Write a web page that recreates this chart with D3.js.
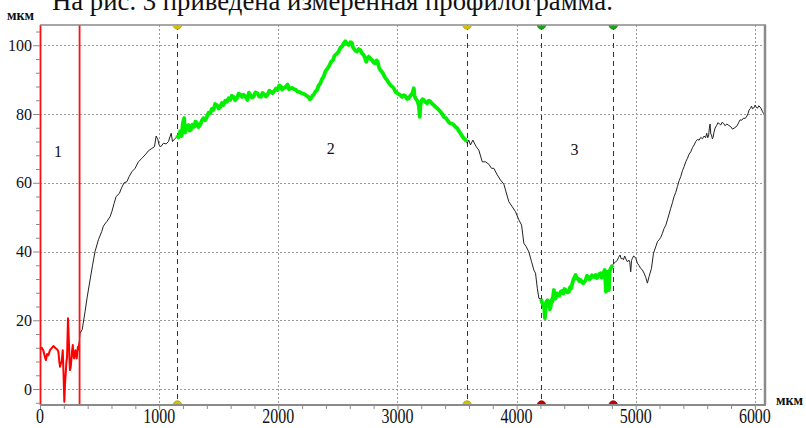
<!DOCTYPE html>
<html>
<head>
<meta charset="utf-8">
<script src="https://cdn.jsdelivr.net/npm/d3@7/dist/d3.min.js"></script>
<style>
  html, body { margin: 0; padding: 0; background: #fff; }
  svg { display: block; }
</style>
</head>
<body>
<svg id="chart" width="806" height="428"></svg>
<script>
// Profile height (мкм) against position along the trace (мкм), one array per zone.
const profileRed = [[0,11.5],[15,12],[28,11.2],[40,9.5],[50,8.4],[60,10.2],[70,9.8],[84,11.3],[100,12],[112,12.5],[125,12.1],[134,11.8],[145,11.5],[154,10.9],[162,8],[168,6.5],[175,7.5],[182,7.9],[191,11.3],[198,4],[204,-3.7],[210,1.5],[216,4.6],[222,8],[227,9.4],[231,15],[235,20.6],[240,16],[244,12.3],[248,8],[252,5.5],[258,6.5],[263,8.4],[269,11],[275,12.8],[280,10],[286,8.9],[292,10],[297,11.3],[303,10],[308,8.9],[314,11],[319,12.3],[324,11.5],[328,13.3]];

const profileBlackA = [[328,13.3],[336,16.2],[355,17.4],[378,22.5],[395,26.5],[420,31.7],[441,36],[462,40],[490,43.4],[518,45.8],[532,47.4],[560,48.7],[588,50.1],[603,51.6],[622,54],[639,56],[666,56.9],[687,58.7],[706,60],[729,60.3],[748,61.8],[771,63.2],[798,64.2],[826,66.1],[855,67.1],[882,68.1],[910,69.3],[939,70],[961,70.5],[975,73.6],[989,72.6],[1000,71],[1014,70.5],[1036,71.5],[1059,71.3],[1078,72],[1101,74.4],[1112,72],[1134,72.9],[1149,73.4]];

const profileGreenA = [[1149,73.9],[1162,73.2],[1176,74.9],[1188,73.6],[1199,77.3],[1210,78.8],[1218,74.6],[1227,75.9],[1246,76.8],[1256,75.2],[1266,75.4],[1280,76.9],[1294,76.3],[1305,77.8],[1317,77.3],[1330,76.2],[1344,76.8],[1358,78.1],[1372,78.8],[1386,78.2],[1401,79.2],[1415,80.4],[1429,80.2],[1442,81.5],[1456,81.2],[1470,82.9],[1485,82.6],[1499,81.6],[1513,82.1],[1527,83.2],[1540,82.6],[1555,83.9],[1569,83.6],[1583,84.6],[1597,84.1],[1610,85.3],[1624,85],[1638,84],[1653,84.6],[1667,85.9],[1681,85.7],[1695,85],[1708,85.6],[1725,85.1],[1742,84.1],[1753,86.2],[1765,85.6],[1778,84.8],[1792,85],[1808,86.3],[1826,86],[1840,85.1],[1855,85],[1868,86.1],[1882,85.7],[1896,85.1],[1910,85.6],[1925,86.8],[1939,86.4],[1952,86.1],[1966,86.7],[1980,87.4],[1994,87],[2008,88.3],[2023,88],[2032,87.1],[2044,87.5],[2060,87.8],[2078,88.6],[2090,87.2],[2101,87.5],[2115,87.6],[2128,87.3],[2145,87.1],[2162,86.5],[2180,86.4],[2199,86],[2213,85.9],[2227,85.6],[2241,85.2],[2255,84.9],[2265,84.3],[2275,84.6],[2286,85.3],[2297,85.6],[2311,86.5],[2325,87],[2339,88.3],[2353,88.9],[2367,90.2],[2381,90.9],[2392,92.1],[2403,92.8],[2417,93.4],[2431,94.3],[2445,95.3],[2460,95.7],[2470,96.8],[2479,97.2],[2493,97.6],[2507,98.2],[2521,99.3],[2535,99.6],[2549,100.6],[2563,101.2],[2577,100.4],[2591,100.1],[2605,100.9],[2619,100.6],[2626,99.4],[2633,99.1],[2647,98.4],[2661,98.2],[2675,98.9],[2689,98.6],[2703,97.6],[2717,97.2],[2729,96.1],[2739,95.2],[2749,96.3],[2759,96.7],[2773,96.1],[2787,95.7],[2801,94.9],[2815,94.8],[2825,95.6],[2834,95.2],[2845,93.6],[2857,92.8],[2871,92.2],[2885,91.4],[2899,90.4],[2913,89.9],[2927,89.1],[2941,88.4],[2955,88],[2969,87.5],[2985,86.4],[3002,86],[3020,85.6],[3039,85],[3053,85.5],[3067,85.2],[3081,84.4],[3095,84.6],[3105,85.2],[3115,85.6],[3127,86.2],[3137,87.5],[3144,85.3],[3151,84.6],[3160,84.2],[3170,83.6],[3180,82.3],[3187,79.2],[3193,82.4],[3199,83.6],[3210,84.3],[3221,84.1],[3235,83.5],[3249,83.1],[3263,83.9],[3277,83.6],[3291,83],[3305,82.6],[3319,82.1],[3333,81.7],[3347,81.2],[3361,80.7],[3375,80.1],[3389,79.2],[3404,78.9],[3418,78.3],[3431,77.6],[3445,77.3],[3459,77.2],[3473,76.8],[3488,76.2],[3502,75.9],[3515,75.1],[3529,74.4],[3543,73.6],[3557,72.9],[3569,72.6],[3580,72]];

const profileBlackB = [[3580,72],[3585,71.5],[3599,72.4],[3613,71],[3633,72.4],[3661,70.5],[3683,69.5],[3712,66.1],[3739,66.1],[3767,65.4],[3790,64.2],[3809,64.2],[3838,62.3],[3865,60.8],[3893,59.6],[3907,57.9],[3935,54.5],[3964,53],[3991,51.6],[4019,49.2],[4042,47.7],[4061,42.4],[4081,41.4],[4103,39.9],[4126,37],[4145,34.6],[4159,33.7],[4174,29.3],[4187,26.4],[4205,26.2]];

const profileGreenB = [[4205,26.2],[4214,25.1],[4224,24.4],[4231,23.8],[4238,20.6],[4244,24.2],[4249,25.4],[4260,25.8],[4271,24.4],[4279,23.2],[4286,23.9],[4293,25.9],[4300,25.4],[4307,27.1],[4313,28.8],[4320,26.2],[4328,26.4],[4338,27.8],[4347,27.3],[4358,27.1],[4370,28.3],[4381,28.5],[4392,27.8],[4402,29.1],[4412,28.8],[4425,28.1],[4439,28.3],[4449,29.6],[4459,29.3],[4467,30.6],[4476,31.7],[4486,32.5],[4496,33.2],[4505,32.1],[4515,32.2],[4527,31.4],[4538,31.7],[4549,31.1],[4560,30.8],[4570,31.2],[4580,31.7],[4590,32.9],[4599,32.7],[4611,31.9],[4622,32.2],[4633,33.1],[4644,32.7],[4654,32.6],[4664,33.2],[4674,32.3],[4683,32.7],[4695,33.5],[4706,33.7],[4714,32.4],[4722,32.7],[4731,33.9],[4739,34.6],[4745,31.5],[4750,28.3],[4756,33.2],[4762,34.1],[4768,32.5],[4775,28.8],[4780,33.4],[4784,34.6],[4791,35.1],[4798,35.6],[4807,36.1]];

const profileBlackC = [[4807,36.1],[4817,36.6],[4830,36.9],[4846,37.5],[4856,38.3],[4868,39],[4878,37.9],[4888,38],[4897,37.6],[4907,38.7],[4918,37.8],[4930,37],[4943,37.5],[4950,36.8],[4958,34.1],[4965,37.4],[4972,38],[4982,38.7],[4991,38.5],[5002,37.9],[5014,36.6],[5028,35.9],[5042,35.1],[5056,34.6],[5070,33.7],[5085,32.4],[5098,30.8],[5112,32.7],[5132,35.1],[5149,39.5],[5168,41.4],[5183,42.9],[5196,43.4],[5210,44.1],[5224,45.3],[5238,46.7],[5252,47.6],[5266,49.2],[5280,50.9],[5294,52.6],[5308,54.2],[5322,56],[5336,57.2],[5350,58.9],[5364,60.6],[5378,61.8],[5392,63.5],[5406,64.7],[5420,66.1],[5434,67.1],[5448,68.3],[5462,69],[5476,70.2],[5490,71],[5504,72],[5518,72.6],[5532,72.4],[5546,73.2],[5560,72.8],[5574,73.6],[5586,73.1],[5596,74.4],[5604,73.1],[5611,73.4],[5618,75.9],[5624,77.1],[5630,74.2],[5636,73.9],[5643,72.8],[5649,73.2],[5657,74.7],[5666,75.9],[5678,76.6],[5691,77.5],[5702,77.1],[5714,76.8],[5725,77.6],[5737,77.3],[5750,76.6],[5764,77.1],[5781,76.7],[5798,76.3],[5812,75.6],[5826,75.9],[5840,76.2],[5854,76.8],[5865,77.6],[5876,78.3],[5890,78.2],[5905,78.8],[5919,78.7],[5933,79.4],[5942,80.1],[5952,81.2],[5962,81.6],[5972,82.3],[5980,81.5],[5989,81.7],[5996,82.1],[6002,82.6],[6012,81.9],[6022,81.7],[6033,82.4],[6044,82],[6054,81.5],[6064,80.7],[6074,80.1],[6084,79.4]];

// Axis ticks
const xMajorTicks = [0, 1000, 2000, 3000, 4000, 5000, 6000];
const yMajorTicks = [0, 20, 40, 60, 80, 100];

// Zone 1 boundaries (red), cursor positions and their marker colours
const zoneOneBounds = [0, 328];
const cursorPositions = [1149, 3580, 4205, 4807];
const cursorTopColors = ["#d4c400", "#d4c400", "#1aa51a", "#1aa51a"];
const cursorBottomColors = ["#d4c400", "#d4c400", "#c40000", "#c40000"];

// Zone numbers
const zoneLabels = ["1", "2", "3"];
const zoneLabelX = [151, 2441, 4487];
const zoneLabelY = [67.5, 68.4, 68.1];

const caption = "На рис. 3 приведена измеренная профилограмма.";
const unitLabel = "мкм";

const SERIF = "'Liberation Serif', 'Times New Roman', 'DejaVu Serif', serif";

const svg = d3.select("#chart");
const L = 40, R = 765, T = 25, B = 405;

const x = d3.scaleLinear().domain([0, 6085]).range([L, R]);
const y = d3.scaleLinear().domain([-4.65, 105.9]).range([B, T]);

// caption above the chart, partly running off the page top
const cap = svg.append("text")
  .attr("x", 52).attr("y", 10)
  .attr("font-family", SERIF)
  .attr("font-size", 26)
  .attr("fill", "#111")
  .text(caption);
const capW = cap.node().getComputedTextLength();
cap.attr("font-size", 26 * 561 / capW);

// grid
const grid = svg.append("g").attr("stroke", "#9a9a9a").attr("stroke-width", 1).attr("stroke-dasharray", "2,2");
grid.selectAll("line.gx").data(xMajorTicks.filter(d => d > 0)).join("line")
  .attr("x1", d => Math.round(x(d)) + 0.5).attr("x2", d => Math.round(x(d)) + 0.5)
  .attr("y1", T).attr("y2", B);
grid.selectAll("line.gy").data(yMajorTicks).join("line")
  .attr("x1", L).attr("x2", R)
  .attr("y1", d => Math.round(y(d)) + 0.5).attr("y2", d => Math.round(y(d)) + 0.5);

// cursors (dashed verticals)
svg.append("g").selectAll("line").data(cursorPositions).join("line")
  .attr("x1", d => Math.round(x(d)) + 0.5).attr("x2", d => Math.round(x(d)) + 0.5)
  .attr("y1", T).attr("y2", B)
  .attr("stroke", "#333").attr("stroke-width", 1).attr("stroke-dasharray", "5,4");

// profile
const line = d3.line().x(d => x(d[0])).y(d => y(d[1]));
const drawSeg = (data, color, width) =>
  svg.append("path").datum(data).attr("d", line)
    .attr("fill", "none").attr("stroke", color).attr("stroke-width", width)
    .attr("stroke-linejoin", "round");

drawSeg(profileBlackA, "#222", 1);
drawSeg(profileBlackB, "#222", 1);
drawSeg(profileBlackC, "#222", 1);
drawSeg(profileGreenA, "#00f000", 3.8);
drawSeg(profileGreenB, "#00f000", 3.8);
drawSeg(profileRed, "#ff0000", 2);

// zone 1 bounds
svg.append("g").selectAll("line").data(zoneOneBounds).join("line")
  .attr("x1", d => x(d) + 0.5).attr("x2", d => x(d) + 0.5)
  .attr("y1", T).attr("y2", B)
  .attr("stroke", "#ff1010").attr("stroke-width", 1.8);

// frame
const frame = svg.append("g").attr("stroke", "#8a8a8a").attr("fill", "none");
frame.append("line").attr("x1", L).attr("x2", R + 1).attr("y1", T).attr("y2", T).attr("stroke-width", 1.5);
frame.append("line").attr("x1", R).attr("x2", R).attr("y1", T).attr("y2", B).attr("stroke-width", 2.5);

// axes
const xMinor = d3.range(0, 6001, 200).filter(v => v % 1000 !== 0);
const yMinor = d3.range(-4, 105, 4).filter(v => v % 20 !== 0);

const gx = svg.append("g").attr("transform", `translate(0,${B})`);
gx.call(d3.axisBottom(x).tickValues(xMajorTicks).tickSize(5).tickFormat(""));
gx.call(g => g.append("g").call(d3.axisBottom(x).tickValues(xMinor).tickSize(4).tickFormat("")));
gx.selectAll(".domain").remove();
gx.selectAll("line").attr("stroke", "#8a8a8a");
svg.append("line").attr("x1", L).attr("x2", R + 1).attr("y1", B).attr("y2", B)
  .attr("stroke", "#8a8a8a").attr("stroke-width", 2);

svg.append("g").selectAll("text").data(xMajorTicks).join("text")
  .attr("text-anchor", "middle")
  .attr("font-family", SERIF).attr("font-size", 16).attr("fill", "#111")
  .attr("transform", d => `translate(${x(d)},${B + 17.5}) scale(1,1.3)`)
  .text(d => d);

const gy = svg.append("g").attr("transform", `translate(${L},0)`);
gy.call(d3.axisLeft(y).tickValues(yMajorTicks).tickSize(7).tickFormat(""));
gy.call(g => g.append("g").call(d3.axisLeft(y).tickValues(yMinor).tickSize(4).tickFormat("")));
gy.selectAll(".domain").remove();
gy.selectAll("line").attr("stroke", "#8a8a8a");

svg.append("g").selectAll("text").data(yMajorTicks).join("text")
  .attr("x", L - 8).attr("y", d => y(d) + 5.5)
  .attr("text-anchor", "end")
  .attr("font-family", SERIF).attr("font-size", 16).attr("fill", "#111")
  .text(d => d);

// cursor markers, half discs on the top and bottom border
const clipId = "plotClip";
svg.append("clipPath").attr("id", clipId).append("rect")
  .attr("x", L).attr("y", T + 0.5).attr("width", R - L).attr("height", B - T - 1.5);
const mk = svg.append("g").attr("clip-path", `url(#${clipId})`);
mk.selectAll("circle.top").data(cursorPositions).join("circle")
  .attr("cx", d => x(d) + 0.5).attr("cy", T).attr("r", 4.2)
  .attr("fill", (d, i) => cursorTopColors[i])
  .attr("stroke", (d, i) => d3.color(cursorTopColors[i]).darker(0.6)).attr("stroke-width", 0.8);
mk.selectAll("circle.bot").data(cursorPositions).join("circle")
  .attr("cx", d => x(d) + 0.5).attr("cy", B).attr("r", 4.2)
  .attr("fill", (d, i) => cursorBottomColors[i])
  .attr("stroke", (d, i) => d3.color(cursorBottomColors[i]).darker(0.6)).attr("stroke-width", 0.8);

// zone numbers
svg.append("g").selectAll("text").data(zoneLabels).join("text")
  .attr("x", (d, i) => x(zoneLabelX[i])).attr("y", (d, i) => y(zoneLabelY[i]))
  .attr("text-anchor", "middle")
  .attr("font-family", SERIF).attr("font-size", 16).attr("fill", "#111")
  .text(d => d);

// unit labels
svg.append("text").attr("x", 7).attr("y", 20)
  .attr("font-family", SERIF).attr("font-size", 14).attr("font-weight", "bold").attr("fill", "#111")
  .text(unitLabel);
svg.append("text").attr("x", 776).attr("y", 405)
  .attr("font-family", SERIF).attr("font-size", 14).attr("font-weight", "bold").attr("fill", "#111")
  .text(unitLabel);
</script>
</body>
</html>
